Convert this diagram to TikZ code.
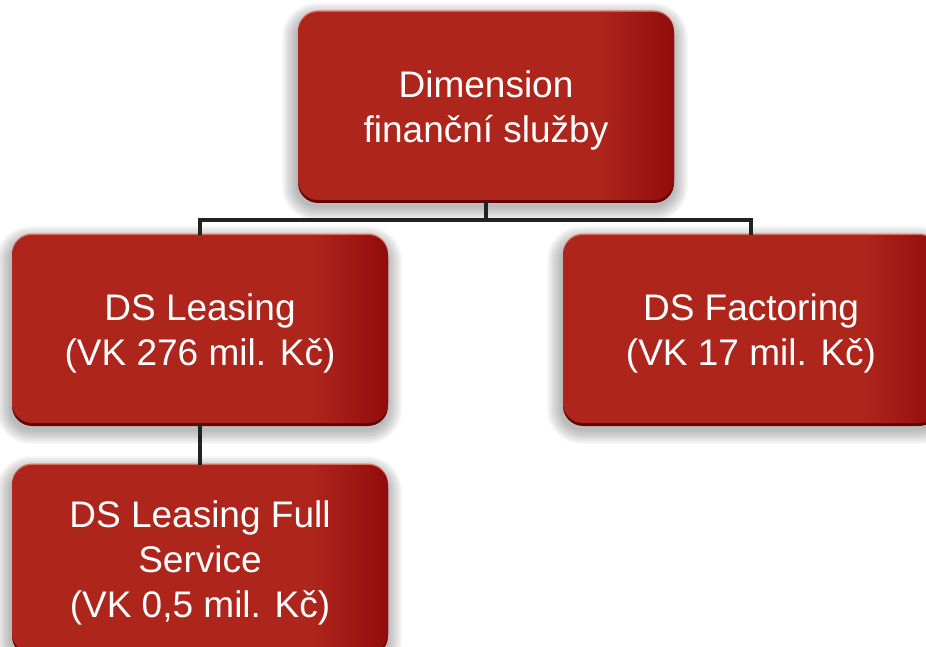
\documentclass[tikz,border=0pt]{standalone}
\usepackage{fontspec}
\setmainfont{Liberation Sans}
\definecolor{boxmain}{RGB}{174,37,28}
\definecolor{boxdark}{RGB}{146,12,12}
\definecolor{boxrimdark}{RGB}{100,4,4}
\definecolor{boxrimlight}{RGB}{212,112,92}
\definecolor{linecol}{RGB}{34,34,34}
\newcommand\boxstrut{\rule{0pt}{35pt}}
\pgfdeclarehorizontalshading{boxshade}{100bp}{color(0bp)=(boxmain); color(25bp)=(boxmain); color(65bp)=(boxmain); color(75bp)=(boxdark); color(100bp)=(boxdark)}
\tikzset{
  boxshadow/.style={preaction={draw=black!70, line width=#1, draw opacity=0.045, transform canvas={xshift=-1pt, yshift=-6pt}}},
  orgbox/.style={rectangle, rounded corners=20pt, minimum width=376pt, minimum height=188pt,
    inner sep=0pt, text=white, align=center, font=\fontsize{37}{45}\selectfont,
    boxshadow=3pt, boxshadow=6pt, boxshadow=9pt, boxshadow=12pt, boxshadow=15pt,
    boxshadow=18pt, boxshadow=21pt, boxshadow=24pt, boxshadow=27pt, boxshadow=30pt,
    preaction={fill=boxrimdark, transform canvas={yshift=-3pt}},
    preaction={fill=boxrimlight, transform canvas={yshift=1.5pt}},
    shade, shading=boxshade},
  connector/.style={draw=linecol, line width=3.5pt}
}
\begin{document}
\begin{tikzpicture}[x=1pt, y=-1pt]
\fill[white] (0,0) rectangle (926,647);
\useasboundingbox (0,0) rectangle (926,647);
\node[orgbox] (top) at (486,106) {\boxstrut Dimension\\finanční služby};
\node[orgbox] (leasing) at (200,329) {\boxstrut DS Leasing\\(VK 276 mil. Kč)};
\node[orgbox] (factoring) at (751,329) {\boxstrut DS Factoring\\(VK 17 mil. Kč)};
\node[orgbox] (full) at (200,559) {\boxstrut DS Leasing Full\\Service\\(VK 0,5 mil. Kč)};
\draw[connector] (top.south) -- ++(0,20) -| (leasing.north);
\draw[connector] (top.south) -- ++(0,20) -| (factoring.north);
\draw[connector] (leasing.south) -- (full.north);
\end{tikzpicture}
\end{document}
